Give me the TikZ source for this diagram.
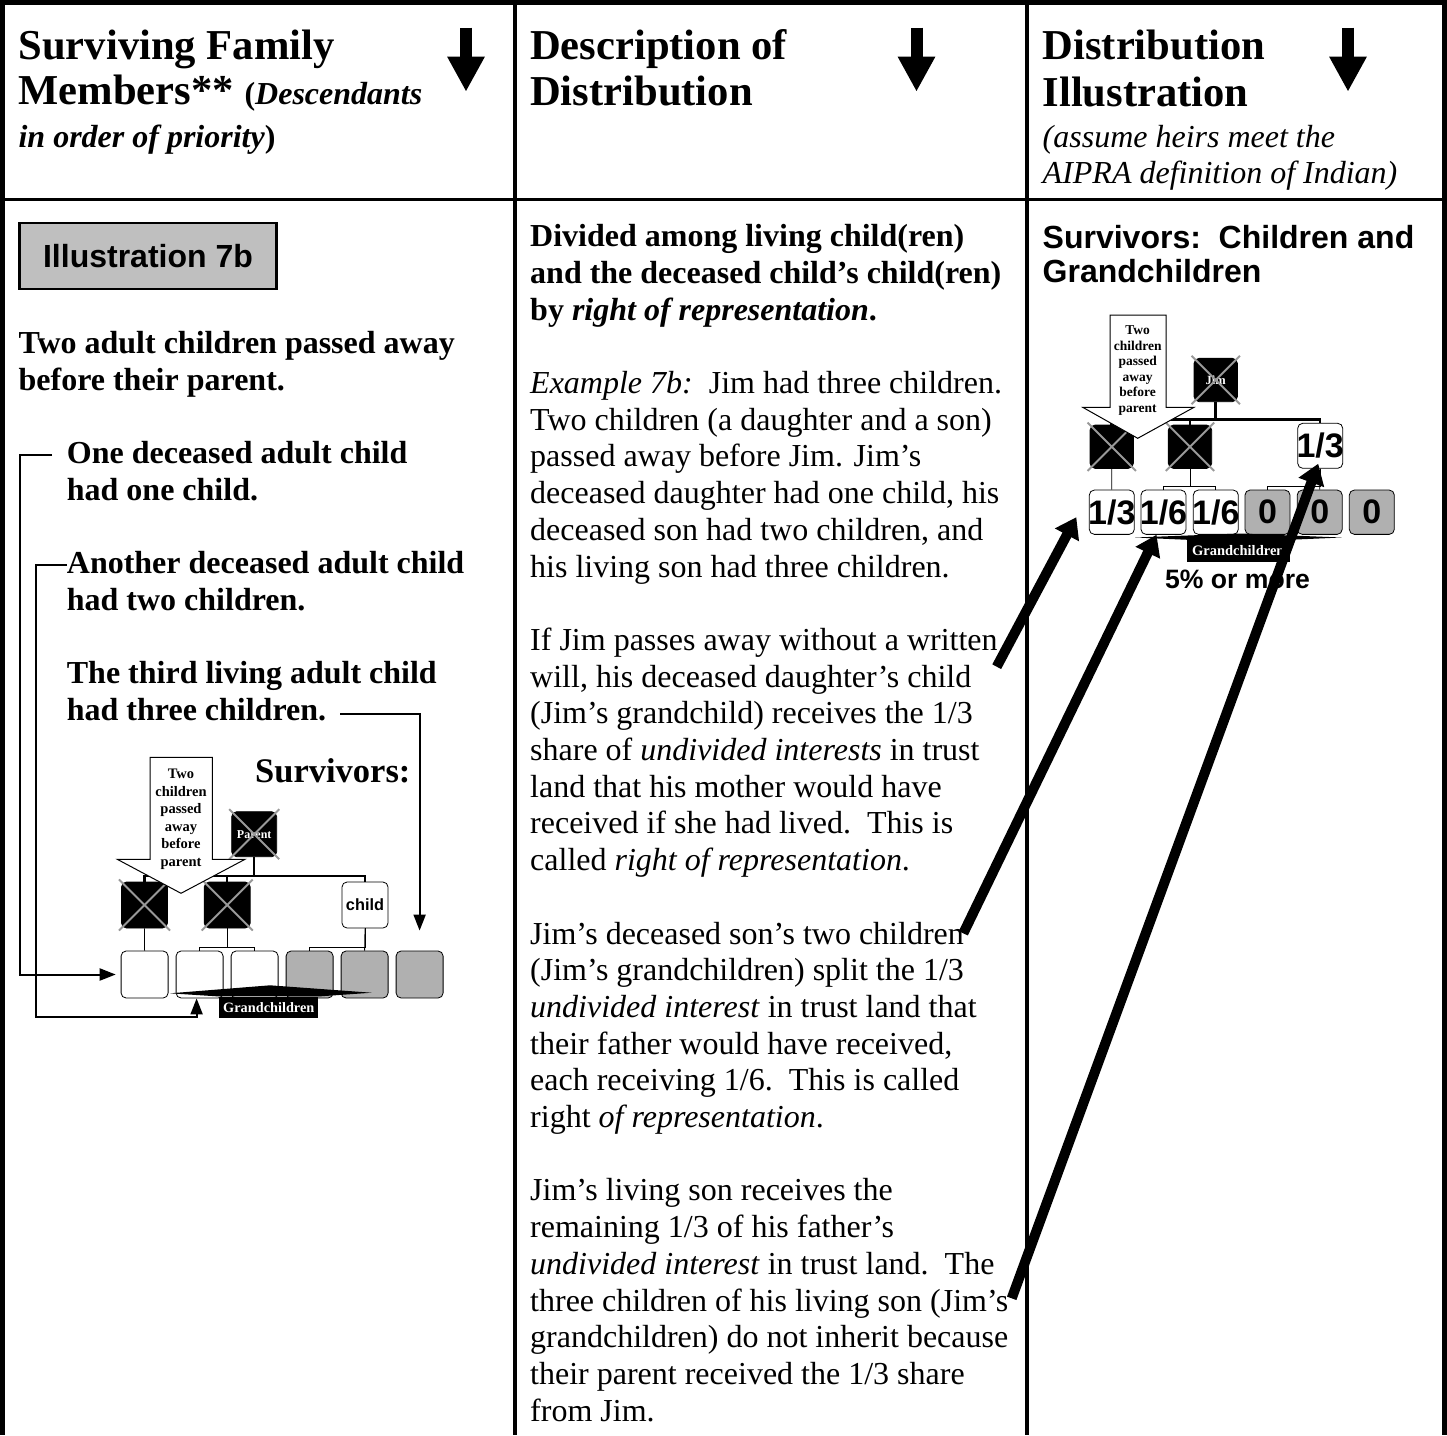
\documentclass[tikz,border=0pt]{standalone}
\usepackage{fontspec}
\setmainfont{Liberation Serif}
\setsansfont{Liberation Sans}
\usetikzlibrary{arrows.meta}

\definecolor{boxgrey}{gray}{0.69}
\definecolor{illgrey}{gray}{0.75}
\definecolor{crossgrey}{gray}{0.6}

\newcommand\hdfont{\fontsize{42.6}{46}\selectfont\bfseries}
\newcommand\bodyfont{\fontsize{32}{36.7}\selectfont}
\newcommand\armfont{\sffamily\bfseries\fontsize{32}{34.5}\selectfont}
\newcommand\sharefont{\sffamily\bfseries\fontsize{34}{34}\selectfont}

\tikzset{
  txt/.style={anchor=base west, inner sep=0pt, align=left},
  rule/.style={line width=3.3pt},
  frame/.style={line width=4.6pt},
  hdarrow/.style={line width=12pt, -{Triangle[length=35pt,width=35pt]}},
  box/.style={draw, line width=0.8pt, rounded corners=5pt, inner sep=0pt},
  deadbox/.style={box, fill=black, text=white, font=\bfseries\fontsize{12}{12}\selectfont},
  livebox/.style={box, fill=white},
  greybox/.style={box, fill=boxgrey},
  xmark/.style={draw=crossgrey, line width=2pt, shorten <=-3pt, shorten >=-3pt},
  famline/.style={line width=2.5pt},
  kidline/.style={line width=0.8pt},
  note/.style={draw, line width=1pt, fill=white},
  gclabel/.style={fill=black, text=white, inner sep=0pt, font=\bfseries\fontsize{14.3}{14.3}\selectfont},
  pointer/.style={line width=2pt, -{Triangle[length=16pt,width=12pt]}},
  bigarrow/.style={line width=10pt, -{Triangle[length=20pt,width=26pt]}}
}

\begin{document}
\begin{tikzpicture}[x=1pt, y=-1pt]
    \useasboundingbox (0,0) rectangle (1447,1435);

    % table
    \draw[frame] (0,2.3) -- (1447,2.3);
    \draw[frame] (2.3,0) -- (2.3,1435);
    \draw[frame] (1444.5,0) -- (1444.5,1435);
    \draw[rule] (515,0) -- (515,1435);
    \draw[rule] (1027,0) -- (1027,1435);
    \draw[rule] (0,199.3) -- (1447,199.3);

    % header
    \node[txt, font=\hdfont] (h1a) at (18.4,59.5) {Surviving Family};
    \node[txt, font=\hdfont] (h1b) at (18.4,104.5) {Members** {\bodyfont(\textit{Descendants}}};
    \node[txt, font=\bodyfont\bfseries] (h1c) at (18.4,147) {\textit{in order of priority})};
    \node[txt, font=\hdfont] (h2a) at (530,59.5) {Description of};
    \node[txt, font=\hdfont] (h2b) at (530,105) {Distribution};
    \node[txt, font=\hdfont] (h3a) at (1042.5,59.5) {Distribution};
    \node[txt, font=\hdfont] (h3b) at (1042.5,106) {Illustration};
    \node[txt, font=\bodyfont\itshape] (h3c) at (1042.5,147) {(assume heirs meet the};
    \node[txt, font=\bodyfont\itshape] (h3d) at (1042.5,183) {AIPRA definition of Indian)};

    \draw[hdarrow] (466,27.7) -- (466,91.7);
    \draw[hdarrow] (916.5,27.7) -- (916.5,91.7);
    \draw[hdarrow] (1348,27.7) -- (1348,91.7);

    % first column
    \node[draw, fill=illgrey, line width=2.5pt, minimum width=257pt, minimum height=66pt, font=\armfont] (ill) at (148,256) {Illustration 7b};
    \node[txt, font=\bodyfont\bfseries] (lost) at (18.4,390) {Two adult children passed away\\before their parent.};
    \node[txt, font=\bodyfont\bfseries] (one) at (66.7,500.1) {One deceased adult child\\had one child.};
    \node[txt, font=\bodyfont\bfseries] (another) at (66.7,610.2) {Another deceased adult child\\had two children.};
    \node[txt, font=\bodyfont\bfseries] (third) at (66.7,720.3) {The third living adult child\\had three children.};

    \node[txt, font=\bfseries\fontsize{34.5}{36}\selectfont] (lsurv) at (255,782.7) {Survivors:};

    \node[deadbox, minimum size=45pt] (lpar) at (254.2,834.2) {Parent};
    \node[deadbox, minimum size=46pt] (lc1) at (144.5,905) {};
    \node[deadbox, minimum size=46pt] (lc2) at (227.2,905) {};
    \node[livebox, minimum size=46pt, font=\sffamily\bfseries\fontsize{16.3}{16}\selectfont] (lc3) at (365,905) {child};

    \node[livebox, minimum size=47pt] (lg1) at (144.6,974.5) {};
    \node[livebox, minimum size=47pt] (lg2) at (199.6,974.5) {};
    \node[livebox, minimum size=47pt] (lg3) at (254.6,974.5) {};
    \node[greybox, minimum size=47pt] (lg4) at (309.6,974.5) {};
    \node[greybox, minimum size=47pt] (lg5) at (364.6,974.5) {};
    \node[greybox, minimum size=47pt] (lg6) at (419.6,974.5) {};

    \draw[xmark] (lpar.north west) -- (lpar.south east); \draw[xmark] (lpar.north east) -- (lpar.south west);
    \draw[xmark] (lc1.north west) -- (lc1.south east); \draw[xmark] (lc1.north east) -- (lc1.south west);
    \draw[xmark] (lc2.north west) -- (lc2.south east); \draw[xmark] (lc2.north east) -- (lc2.south west);

    \draw[famline] (lpar.south) -- ++(0,19.3);
    \draw[famline] (lc1.north) -- ++(0,-5.7) -| (lc3.north);
    \draw[famline] (lc2.north) -- ++(0,-5.7);
    \draw[kidline] (lc1.south) -- (lg1.north);
    \draw[kidline] (lc2.south) -- ++(0,18.7) -| (lg2.north);
    \draw[kidline] (lc2.south) -- ++(0,18.7) -| (lg3.north);
    \draw[kidline] (lc3.south) -- (lg5.north);
    \draw[kidline] (lc3.south) -- ++(0,18.7) -| (lg4.north);

    \draw[note] (150,757.3) -- (212.3,757.3) -- (212.3,859.3) -- (245,859.3) -- (181,893.3) -- (117.3,859.3) -- (150,859.3) -- cycle;
    \node[align=center, inner sep=0pt, font=\bfseries\fontsize{14.5}{17.6}\selectfont] (lnote) at (181,819.2) {Two\\children\\passed\\away\\before\\parent};

    \node[gclabel, minimum width=99pt, minimum height=21.3pt] (llab) at (268.8,1007.3) {Grandchildren};
    \fill (llab.north west) -- (170,993.3) -- (270,985.3) -- (371.7,992.7) -- (llab.north east) -- cycle;

    \coordinate (k1) at (52,455);
    \coordinate (k2) at (67,565);
    \coordinate (k3) at (340,714);
    \draw[pointer] (k1) -- ++(-32,0) |- ([xshift=-5pt]lg1.west);
    \draw[pointer] (k2) -- ++(-31,0) -- ++(0,452) -| ([xshift=-3pt]lg2.south);
    \draw[pointer] (k3) -| ([yshift=20pt]lg6.north);

    % second column
    \node[txt, font=\bodyfont] (desc) at (530,1421.1) {\textbf{Divided among living child(ren)}\\
        \textbf{and the deceased child’s child(ren)}\\
        \textbf{by \textit{right of representation}.}\\[36.7pt]
        \textit{Example 7b:}\ \ Jim had three children.\\
        Two children (a daughter and a son)\\
        passed away before Jim. Jim’s\\
        deceased daughter had one child, his\\
        deceased son had two children, and\\
        his living son had three children.\\[36.7pt]
        If Jim passes away without a written\\
        will, his deceased daughter’s child\\
        (Jim’s grandchild) receives the 1/3\\
        share of \textit{undivided interests} in trust\\
        land that his mother would have\\
        received if she had lived.\ \ This is\\
        called \textit{right of representation}.\\[36.7pt]
        Jim’s deceased son’s two children\\
        (Jim’s grandchildren) split the 1/3\\
        \textit{undivided interest} in trust land that\\
        their father would have received,\\
        each receiving 1/6.\ \ This is called\\
        right \textit{of representation}.\\[36.7pt]
        Jim’s living son receives the\\
        remaining 1/3 of his father’s\\
        \textit{undivided interest} in trust land.\ \ The\\
        three children of his living son (Jim’s\\
        grandchildren) do not inherit because\\
        their parent received the 1/3 share\\
        from Jim.};

    % third column
    \node[txt, font=\armfont] (rsurv) at (1042.5,282.8) {Survivors:\ \ Children and\\Grandchildren};

    \node[deadbox, minimum size=43.3pt, font=\bfseries\fontsize{12.5}{12.5}\selectfont] (jim) at (1215.7,380) {Jim};
    \node[deadbox, minimum size=43.3pt] (rc1) at (1111.7,446.7) {};
    \node[deadbox, minimum size=43.3pt] (rc2) at (1190,446.7) {};
    \node[livebox, minimum size=45pt, font=\sharefont] (rc3) at (1320.2,445.8) {\makebox[45pt]{1/3}};

    \node[livebox, minimum width=45pt, minimum height=44.3pt, font=\sharefont] (rg1) at (1111.8,512.2) {\makebox[45pt]{1/3}};
    \node[livebox, minimum width=45pt, minimum height=44.3pt, font=\sharefont] (rg2) at (1163.5,512.2) {\makebox[45pt]{1/6}};
    \node[livebox, minimum width=45pt, minimum height=44.3pt, font=\sharefont] (rg3) at (1215.8,512.2) {\makebox[45pt]{1/6}};
    \node[greybox, minimum width=45pt, minimum height=44.3pt, font=\sharefont] (rg4) at (1267.5,512.2) {0};
    \node[greybox, minimum width=45pt, minimum height=44.3pt, font=\sharefont] (rg5) at (1319.7,512.2) {0};
    \node[greybox, minimum width=45pt, minimum height=44.3pt, font=\sharefont] (rg6) at (1371.8,512.2) {0};

    \draw[xmark] (jim.north west) -- (jim.south east); \draw[xmark] (jim.north east) -- (jim.south west);
    \draw[xmark] (rc1.north west) -- (rc1.south east); \draw[xmark] (rc1.north east) -- (rc1.south west);
    \draw[xmark] (rc2.north west) -- (rc2.south east); \draw[xmark] (rc2.north east) -- (rc2.south west);

    \draw[famline] (jim.south) -- ++(0,18.3);
    \draw[famline] (rc1.north) -- ++(0,-5) -| (rc3.north);
    \draw[famline] (rc2.north) -- ++(0,-5);
    \draw[kidline] (rc1.south) -- (rg1.north);
    \draw[kidline] (rc2.south) -- ++(0,17.7) -| (rg2.north);
    \draw[kidline] (rc2.south) -- ++(0,17.7) -| (rg3.north);
    \draw[kidline] (rc3.south) -- (rg5.north);
    \draw[kidline] (rc3.south) -- ++(0,17.7) -| (rg4.north);

    \draw[note] (1110,315) -- (1166,315) -- (1166,407.3) -- (1194,407.3) -- (1137.7,438.3) -- (1082.7,407.3) -- (1110,407.3) -- cycle;
    \node[align=center, inner sep=0pt, font=\bfseries\fontsize{13.5}{15.5}\selectfont] (rnote) at (1137.7,370.5) {Two\\children\\passed\\away\\before\\parent};

    \node[gclabel, minimum width=103.3pt, minimum height=21.7pt, font=\bfseries\fontsize{14.5}{14.5}\selectfont] (rlab) at (1238.3,550.8) {Grandchildren};
    \fill (rlab.north west) -- (1135,537.5) -- (1240,533.5) -- (1341.7,537.5) -- (rlab.north east) -- cycle;
    \node[anchor=base, inner sep=0pt, font=\sffamily\bfseries\fontsize{26.6}{28}\selectfont] (rpct) at (1237.5,588.3) {5\% or more};

    % pointers from the text
    \coordinate (t1) at (996.7,666.7);
    \coordinate (t2) at (963.3,933.3);
    \coordinate (t3) at (1011.7,1298.3);
    \draw[bigarrow] (t1) -- ([xshift=-12.6pt,yshift=-5pt]rg1.west);
    \draw[bigarrow] (t2) -- ([xshift=-7pt]rg2.south);
    \draw[bigarrow] (t3) -- ([xshift=-2pt,yshift=5pt]rc3.south);
\end{tikzpicture}
\end{document}
